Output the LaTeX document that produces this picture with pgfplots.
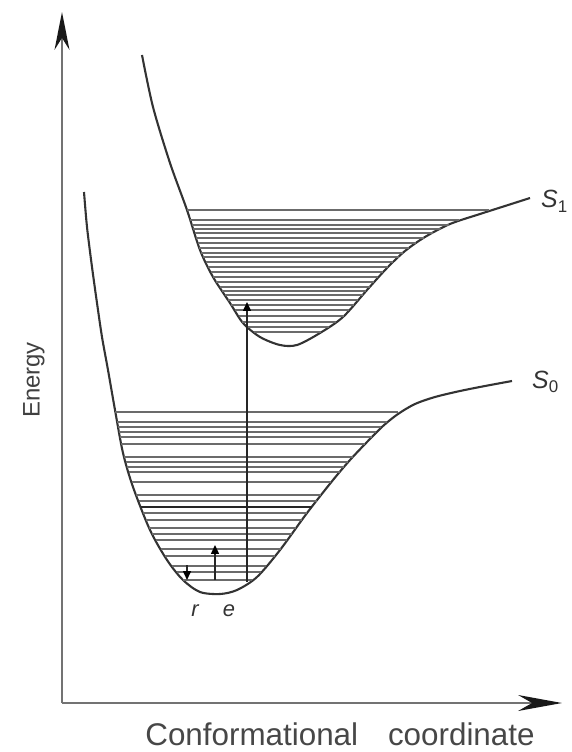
\documentclass[border=0pt]{standalone}
\usepackage{pgfplots}
\pgfplotsset{compat=1.18}
\usepackage{fontspec}
\setmainfont{Liberation Sans}
\usetikzlibrary{arrows.meta}
\begin{document}
\begin{tikzpicture}
\begin{axis}[scale only axis, width=572bp, height=752bp,
  xmin=0, xmax=572, ymin=0, ymax=752, y dir=reverse,
  hide axis, clip=false, unbounded coords=jump]
% frame for bounding box
\addplot[draw=none] coordinates {(0,0) (572,752)};
% axes
\addplot[black!55, line width=1.8pt, -{Stealth[length=38pt,width=15pt,inset=12pt,black!90]}] coordinates {(62,703) (62,12)};
\addplot[black!55, line width=1.8pt, -{Stealth[length=44pt,width=16pt,inset=14pt,black!90]}] coordinates {(62,703) (562,703)};
% S0 curve
\addplot[black!80, line width=2.1pt, smooth] coordinates {
(84,192) (87,227) (92,267) (97,303) (102,337) (108,370) (115,410) (123,453)
(133,487) (150,530) (167,560) (183,580) (200,592) (220,594) (237,590)
(257,577) (280,550) (307,513) (333,480) (350,460) (367,442) (383,426)
(398,414) (415,404) (435,397) (460,391) (485,386) (512,381)};
% S1 curve
\addplot[black!80, line width=2.1pt, smooth] coordinates {
(142,55) (153,107) (170,163) (187,210) (200,250) (213,277) (230,303)
(243,323) (260,337) (280,345) (297,345) (320,333) (343,317) (367,290)
(387,268) (405,251) (425,237) (450,224) (480,214) (505,206) (530,198)};
% S0 levels
\addplot[black!58, line width=1.8pt] coordinates {
(115.4,412) (398,412) (0,nan)
(117.2,422) (386.5,422) (0,nan)
(118.2,427) (381.1,427) (0,nan)
(119.1,432) (376.4,432) (0,nan)
(120.0,437) (371.7,437) (0,nan)
(121.3,444) (365.1,444) (0,nan)
(124.2,457) (352.8,457) (0,nan)
(125.6,462) (348.3,462) (0,nan)
(127.1,467) (344.1,467) (0,nan)
(128.6,472) (339.8,472) (0,nan)
(131.5,482) (331.4,482) (0,nan)
(136.2,495) (321.2,495) (0,nan)
(138.5,501) (316.5,501) (0,nan)
(143.3,513) (307,513) (0,nan)
(146.0,520) (301.9,520) (0,nan)
(149.2,528) (296.1,528) (0,nan)
(152.3,534) (291.7,534) (0,nan)
(155.7,540) (287.3,540) (0,nan)
(160.8,549) (280.7,549) (0,nan)
(164.7,556) (274.9,556) (0,nan)
(171.8,566) (266.4,566) (0,nan)
(176.6,572) (261.3,572) (0,nan)
(183,580) (252.4,580)};
\addplot[black!85, line width=2.4pt] coordinates {(140.9,507) (311.7,507)};
% S1 levels
\addplot[black!58, line width=1.8pt] coordinates {
(187,210) (489.4,210) (0,nan)
(190.3,220) (459,220) (0,nan)
(191.9,225) (449,225) (0,nan)
(193.2,229) (441,229) (0,nan)
(194.5,233) (433,233) (0,nan)
(196.1,238) (424,238) (0,nan)
(197.7,243) (416,243) (0,nan)
(199.4,248) (409,248) (0,nan)
(201.4,253) (403,253) (0,nan)
(203.4,257) (398.5,257) (0,nan)
(205.8,262) (393,262) (0,nan)
(208.2,267) (388,267) (0,nan)
(210.6,272) (382.7,272) (0,nan)
(213,277) (378.3,277) (0,nan)
(216.3,282) (374,282) (0,nan)
(219.5,287) (369.6,287) (0,nan)
(222.2,291) (366.1,291) (0,nan)
(224.8,295) (362.6,295) (0,nan)
(228,300) (358.1,300) (0,nan)
(231.3,305) (353.7,305) (0,nan)
(234.5,310) (349.2,310) (0,nan)
(238.5,316) (343.9,316) (0,nan)
(242.4,322) (335.8,322) (0,nan)
(247.9,327) (328.6,327) (0,nan)
(253.9,332) (321.4,332)};
% transitions
\addplot[black!85, line width=1.5pt, -{Triangle[length=9pt,width=8pt,black]}] coordinates {(247,582) (247,302)};
\addplot[black!85, line width=1.5pt, -{Triangle[length=9pt,width=8pt,black]}] coordinates {(215,580) (215,545)};
\addplot[black!85, line width=1.5pt, -{Triangle[length=9pt,width=8pt,black]}] coordinates {(187,565) (187,580)};
% labels
\node[anchor=base, font=\fontsize{31.5}{36}\selectfont, text=black!72] at (axis cs:340,745) {Conformational\hspace{30pt}coordinate};
\node[rotate=90, font=\fontsize{24}{28}\selectfont, text=black!75] at (axis cs:34,380) {Energy};
\node[anchor=base west, inner sep=0pt, font=\fontsize{25}{28}\selectfont, text=black!80] at (axis cs:541,208) {\itshape S\raisebox{-0.35ex}{\upshape\fontsize{17}{17}\selectfont 1}};
\node[anchor=base west, inner sep=0pt, font=\fontsize{25}{28}\selectfont, text=black!80] at (axis cs:532,388) {\itshape S\raisebox{-0.35ex}{\upshape\fontsize{17}{17}\selectfont 0}};
\node[anchor=base, inner sep=0pt, font=\fontsize{22}{26}\selectfont, text=black!80] at (axis cs:195,616) {\itshape r};
\node[anchor=base, inner sep=0pt, font=\fontsize{22}{26}\selectfont, text=black!80] at (axis cs:229,616) {\itshape e};
\end{axis}
\end{tikzpicture}
\end{document}
